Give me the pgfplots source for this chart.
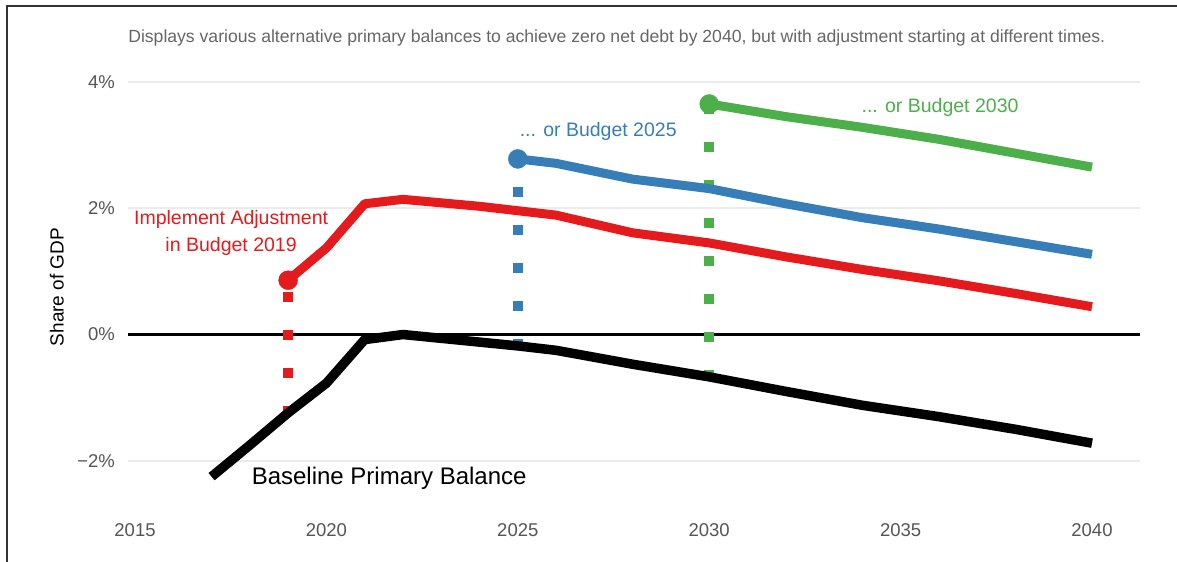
\documentclass[border=0pt]{standalone}
\usepackage{pgfplots}
\pgfplotsset{compat=1.18}
\usepackage{fontspec}
\setmainfont{Liberation Sans}
\definecolor{cred}{HTML}{E41A1C}
\definecolor{cblue}{HTML}{377EB8}
\definecolor{cgreen}{HTML}{4DAF4A}
\definecolor{tickgray}{HTML}{555555}
\definecolor{titlegray}{HTML}{666666}
\definecolor{gridgray}{HTML}{EBEBEB}
\definecolor{framegray}{HTML}{333333}
\begin{document}
\begin{tikzpicture}
\path[use as bounding box] (0,0) rectangle (1177bp,562bp);
\draw[framegray, line width=1.5bp] (7bp,0) -- (7bp,556bp) -- (1177bp,556bp);
\begin{axis}[
  at={(128bp,56.9bp)}, anchor=south west,
  width=1012bp, height=442.2bp, scale only axis,
  xmin=2014.817, xmax=2041.254, ymin=-2.7, ymax=4.3,
  axis line style={draw=none}, tick style={draw=none},
  xtick={2015,2020,2025,2030,2035,2040},
  xticklabels={2015,2020,2025,2030,2035,2040},
  ytick={-2,0,2,4},
  yticklabels={−2\%,0\%,2\%,4\%},
  xticklabel style={font=\fontsize{18.5bp}{20bp}\selectfont, text=tickgray, anchor=center, yshift=-24.9bp},
  yticklabel style={font=\fontsize{18.5bp}{20bp}\selectfont, text=tickgray, anchor=east, inner sep=0pt, xshift=-13bp},
  ymajorgrids, grid style={gridgray, line width=2bp},
  ylabel={Share of GDP},
  ylabel style={font=\fontsize{19bp}{21bp}\selectfont, at={(axis description cs:-0.0702,0.493)}, anchor=center},
  title={Displays various alternative primary balances to achieve zero net debt by 2040, but with adjustment starting at different times.},
  title style={font=\fontsize{17.6bp}{19bp}\selectfont, text=titlegray, at={(axis description cs:0.483,1.042)}, anchor=center},
  clip=false,
]
% zero line
\addplot[black, line width=3.5bp] coordinates {(2014.817,0) (2041.254,0)};
% dotted connectors
\addplot[cred, line width=10bp, dash pattern=on 10bp off 28bp, dash phase=3bp] coordinates {(2019,-1.24) (2019,0.86)};
\addplot[cblue, line width=10bp, dash pattern=on 10bp off 28bp, dash phase=3bp] coordinates {(2025,-0.18) (2025,2.78)};
\addplot[cgreen, line width=10bp, dash pattern=on 10bp off 28bp, dash phase=3bp] coordinates {(2030,-0.67) (2030,3.65)};
% baseline
\addplot[black, line width=9.5bp, line join=round] coordinates {
(2017,-2.25) (2018,-1.75) (2019,-1.24) (2020,-0.77) (2021,-0.08) (2022,0.0) (2024,-0.12) (2025,-0.18) (2026,-0.25) (2028,-0.47) (2030,-0.67) (2032,-0.90) (2034,-1.12) (2036,-1.30) (2038,-1.50) (2040,-1.72)};
% red
\addplot[cred, line width=9bp, line join=round] coordinates {
(2019,0.86) (2020,1.37) (2021,2.07) (2022,2.14) (2024,2.03) (2025,1.96) (2026,1.89) (2028,1.61) (2030,1.45) (2032,1.23) (2034,1.03) (2036,0.85) (2038,0.65) (2040,0.44)};
% blue
\addplot[cblue, line width=9bp, line join=round] coordinates {
(2025,2.78) (2026,2.71) (2028,2.46) (2030,2.31) (2032,2.07) (2034,1.85) (2036,1.67) (2038,1.47) (2040,1.27)};
% green
\addplot[cgreen, line width=9bp, line join=round] coordinates {
(2030,3.65) (2032,3.45) (2034,3.28) (2036,3.09) (2038,2.87) (2040,2.65)};
% start markers
\addplot[cred, only marks, mark=*, mark size=9.5bp, mark options={draw=cred, fill=cred}] coordinates {(2019,0.86)};
\addplot[cblue, only marks, mark=*, mark size=9.5bp, mark options={draw=cblue, fill=cblue}] coordinates {(2025,2.78)};
\addplot[cgreen, only marks, mark=*, mark size=9.5bp, mark options={draw=cgreen, fill=cgreen}] coordinates {(2030,3.65)};
% annotations
\node[text=cred, font=\fontsize{19.5bp}{27bp}\selectfont, align=center] at (axis cs:2017.51,1.61) {Implement Adjustment\\in Budget 2019};
\node[text=cblue, font=\fontsize{19.5bp}{21bp}\selectfont] at (axis cs:2027.10,3.22) {... or Budget 2025};
\node[text=cgreen, font=\fontsize{19.5bp}{21bp}\selectfont] at (axis cs:2036.03,3.60) {... or Budget 2030};
\node[text=black, font=\fontsize{24bp}{26bp}\selectfont] at (axis cs:2021.64,-2.27) {Baseline Primary Balance};
\end{axis}
\end{tikzpicture}
\end{document}
